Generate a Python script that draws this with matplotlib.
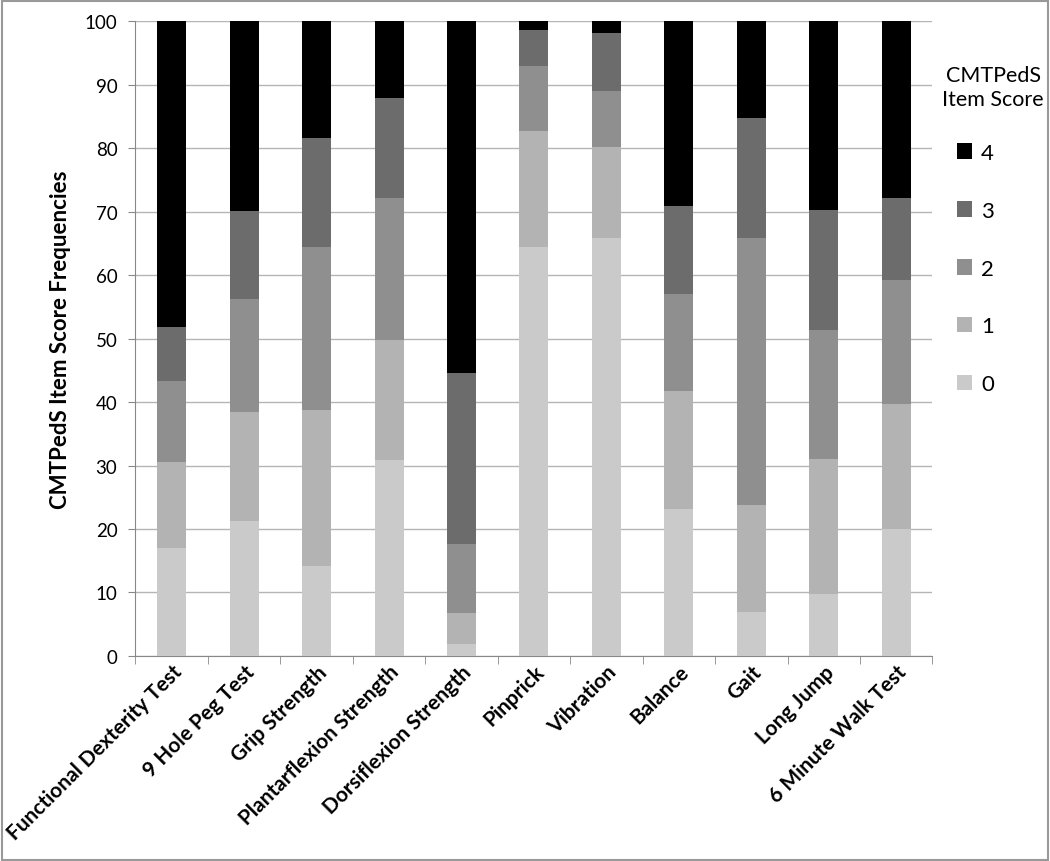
import matplotlib.pyplot as plt
import numpy as np

plt.rcParams['font.family'] = ['Lato', 'DejaVu Sans']

items = ["Functional Dexterity Test", "9 Hole Peg Test", "Grip Strength",
         "Plantarflexion Strength", "Dorsiflexion Strength", "Pinprick",
         "Vibration", "Balance", "Gait", "Long Jump", "6 Minute Walk Test"]

# cumulative tops, per score level
cum_0 = [17.0, 21.2, 14.1, 30.9, 1.9, 64.4, 65.8, 23.2, 6.9, 9.8, 20.0]
cum_1 = [30.5, 38.5, 38.7, 49.8, 6.7, 82.8, 80.2, 41.8, 23.7, 31.0, 39.7]
cum_2 = [43.4, 56.3, 64.5, 72.2, 17.6, 92.9, 89.0, 57.1, 65.8, 51.3, 59.3]
cum_3 = [51.8, 70.1, 81.7, 87.9, 44.6, 98.7, 98.1, 70.9, 84.7, 70.3, 72.2]
cum_4 = [100] * 11

levels = ["0", "1", "2", "3", "4"]
colors = ["#cacaca", "#b3b3b3", "#8f8f8f", "#6c6c6c", "#000000"]

cums = np.array([cum_0, cum_1, cum_2, cum_3, cum_4])
vals = np.diff(np.vstack([np.zeros(len(items)), cums]), axis=0)

fig = plt.figure(figsize=(10.5, 8.62), dpi=100)
ax = fig.add_axes([0.129, 0.238, 0.759, 0.736])

x = np.arange(len(items))
bottom = np.zeros(len(items))
handles = []
for lvl, col, v in zip(levels, colors, vals):
    b = ax.bar(x, v, width=0.4, bottom=bottom, color=col, label=lvl, zorder=3)
    handles.append(b)
    bottom += v

ax.set_xlim(-0.5, len(items) - 0.5)
ax.set_ylim(0, 100)
ax.set_yticks(np.arange(0, 101, 10))
ax.yaxis.grid(True, color="#b5b5b5", linewidth=1, zorder=0)
ax.set_axisbelow(True)
for s in ["top", "right"]:
    ax.spines[s].set_visible(False)
for s in ["left", "bottom"]:
    ax.spines[s].set_color("#888888")
ax.tick_params(axis="y", direction="out", length=5, color="#888888", labelsize=13.5, pad=8)

ax.set_xticks(x)
ax.set_xticklabels(items, rotation=45, ha="right", rotation_mode="anchor",
                   fontsize=15, fontweight="bold")
ax.set_xticks(np.arange(-0.5, len(items), 1), minor=True)
ax.tick_params(axis="x", which="major", length=0, pad=4)
ax.tick_params(axis="x", which="minor", direction="out", length=6, color="#888888")

ax.set_ylabel("CMTPedS Item Score Frequencies", fontsize=16, fontweight="bold", labelpad=10)

# legend title sits as its own text, entries below it
fig.text(0.946, 0.898, "CMTPedS\nItem Score", ha="center", va="center",
         fontsize=15.5, linespacing=1.3)
leg = fig.legend(handles[::-1], levels[::-1],
                 loc="upper left", bbox_to_anchor=(0.911, 0.833), frameon=False,
                 fontsize=16, handlelength=0.7, handleheight=0.7,
                 labelspacing=1.7, handletextpad=0.4, borderaxespad=0, borderpad=0)

fig.patches.append(plt.Rectangle((0.002, 0.001), 0.996, 0.997, transform=fig.transFigure,
                                 fill=False, edgecolor="#999999", linewidth=1.5))

fig.savefig("out.png", dpi=100)
